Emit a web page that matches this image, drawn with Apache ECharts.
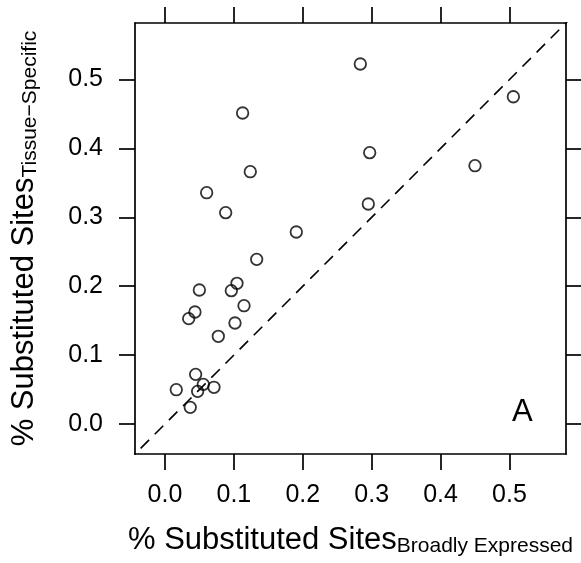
<!DOCTYPE html>
<html>
<head>
<meta charset="utf-8">
<script src="https://cdn.jsdelivr.net/npm/echarts@6/dist/echarts.min.js"></script>
<style>
html,body{margin:0;padding:0;background:#fff;}
#chart{width:581px;height:563px;}
</style>
</head>
<body>
<div id="chart"></div>
<script>
// Data
const broadlyExpressed = [0.2835,0.1127,0.5056,0.2971,0.1238,0.4499,0.0605,0.2951,0.0881,0.1906,0.1331,0.1045,0.0963,0.0499,0.0435,0.0344,0.1147,0.1016,0.0774,0.0445,0.0164,0.0556,0.0474,0.0711,0.0367];
const tissueSpecific   = [0.5225,0.4514,0.4750,0.3938,0.3662,0.3749,0.3357,0.3193,0.3067,0.2787,0.2390,0.2042,0.1935,0.1945,0.1626,0.1529,0.1717,0.1466,0.1273,0.0721,0.0498,0.0576,0.0474,0.0533,0.0242];
const tickValues = [0, 0.1, 0.2, 0.3, 0.4, 0.5];
const tickLabels = ['0.0','0.1','0.2','0.3','0.4','0.5'];
const axisRange = [-0.0435, 0.582];
const identityLine = [[-1, -1], [1, 1]];
const panelLabel = 'A';

const FONT = '"Liberation Sans", Arial, Helvetica, sans-serif';
const LW = 1.7;
const points = broadlyExpressed.map((x, i) => [x, tissueSpecific[i]]);
const labelFmt = v => { const i = tickValues.findIndex(t => Math.abs(t - v) < 1e-9); return i >= 0 ? tickLabels[i] : ''; };

function axisCommon(pos, showLabel) {
  return {
    type: 'value', position: pos, min: axisRange[0], max: axisRange[1],
    splitLine: {show: false},
    axisLine: {show: true, onZero: false, lineStyle: {color: '#000', width: LW}},
    axisTick: {show: true, inside: false, length: 16, customValues: tickValues, lineStyle: {color: '#000', width: LW}},
    axisLabel: {show: showLabel, customValues: tickValues, formatter: labelFmt, color: '#000', fontSize: 25, fontFamily: FONT, margin: 29}
  };
}

const chart = echarts.init(document.getElementById('chart'), null, {renderer: 'canvas'});
const xb = axisCommon('bottom', true);
xb.name = '{m|% Substituted Sites}{s|Broadly Expressed}';
xb.nameLocation = 'middle';
xb.nameGap = 71;
xb.nameTextStyle = {color: '#000', fontFamily: FONT, rich: {
  m: {fontSize: 31, fontFamily: FONT, color: '#000'},
  s: {fontSize: 21, fontFamily: FONT, color: '#000', padding: [0,0,-12,0]}
}};
const yl = axisCommon('left', true);
yl.axisLabel.margin = 32;
yl.name = '{m|% Substituted Sites}{s|Tissue\u2212Specific}';
yl.nameLocation = 'middle';
yl.nameGap = 95;
yl.nameRotate = 90;
yl.nameTextStyle = {color: '#000', fontFamily: FONT, rich: {
  m: {fontSize: 31, fontFamily: FONT, color: '#000'},
  s: {fontSize: 21, fontFamily: FONT, color: '#000', padding: [0,0,-12,0]}
}};

chart.setOption({
  animation: false,
  backgroundColor: '#fff',
  grid: {left: 135, right: 15, top: 23, bottom: 109, containLabel: false},
  xAxis: [xb, axisCommon('top', false)],
  yAxis: [yl, axisCommon('right', false)],
  series: [
    {
      type: 'line', data: identityLine, xAxisIndex: 0, yAxisIndex: 0, clip: true,
      symbol: 'none', silent: true,
      lineStyle: {color: '#000', width: 1.6, type: [12, 8]}
    },
    {
      type: 'scatter', data: points, xAxisIndex: 0, yAxisIndex: 0,
      symbol: 'circle', symbolSize: 11.5,
      itemStyle: {color: 'rgba(0,0,0,0)', borderColor: '#000', borderWidth: 1.8}
    }
  ],
  graphic: [{
    type: 'text', left: 512, top: 397,
    style: {text: panelLabel, fontSize: 31, fontFamily: FONT, fill: '#000'}
  }]
});
</script>
</body>
</html>
